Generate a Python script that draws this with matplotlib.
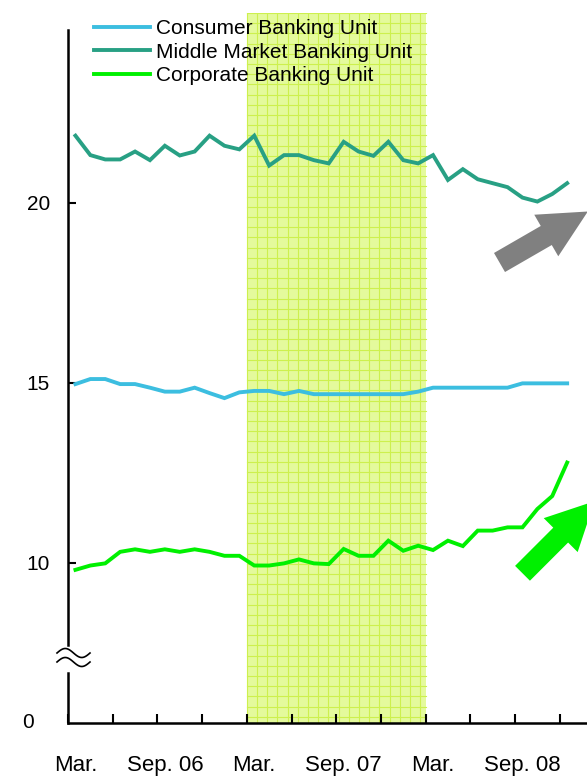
import numpy as np
import matplotlib
matplotlib.use("Agg")
import matplotlib.pyplot as plt
from matplotlib.patches import FancyArrow
from matplotlib.transforms import Affine2D

plt.rcParams['font.family'] = ['Liberation Sans', 'DejaVu Sans']

# Monthly figures, Mar. 2006 - Dec. 2008
consumer = [14.97, 15.11, 15.11, 14.97, 14.97, 14.87, 14.76, 14.76, 14.87, 14.72,
            14.58, 14.74, 14.78, 14.78, 14.69, 14.78, 14.69, 14.69, 14.69, 14.69,
            14.69, 14.69, 14.69, 14.76, 14.87, 14.87, 14.87, 14.87, 14.87, 14.87,
            14.99, 14.99, 14.99, 14.99]
middle_market = [21.87, 21.33, 21.21, 21.21, 21.43, 21.19, 21.59, 21.32, 21.43, 21.87,
                 21.59, 21.49, 21.87, 21.04, 21.33, 21.33, 21.19, 21.10, 21.70, 21.43,
                 21.31, 21.70, 21.19, 21.10, 21.33, 20.64, 20.94, 20.66, 20.55, 20.44,
                 20.15, 20.04, 20.25, 20.55]
corporate = [9.81, 9.93, 9.99, 10.31, 10.38, 10.31, 10.38, 10.31, 10.38, 10.31,
             10.20, 10.20, 9.93, 9.93, 9.99, 10.10, 9.99, 9.97, 10.39, 10.20,
             10.20, 10.62, 10.34, 10.48, 10.36, 10.62, 10.47, 10.90, 10.90, 10.99,
             10.99, 11.50, 11.86, 12.79]

series_names = ["Consumer Banking Unit", "Middle Market Banking Unit", "Corporate Banking Unit"]
series_colors = ["#3cbee0", "#28a084", "#00f000"]

label_pos = [0, 6, 12, 18, 24, 30]
label_text = ["Mar.", "Sep. 06", "Mar.", "Sep. 07", "Mar.", "Sep. 08"]

# value shown as "0" sits at the bottom of the broken axis
y_floor = 10 - 160 / 36
y_top = 20 + 190 / 36
y_ticks = [10, 15, 20]

W, H = 587, 776
fig = plt.figure(figsize=(W / 100, H / 100), dpi=100)
# pixel coordinates (origin top-left) -> figure
px = Affine2D().scale(1, -1).translate(0, H).scale(1 / W, 1 / H) + fig.transFigure

ax = fig.add_axes([68 / W, 1 - 723 / H, 1 - 68 / W, (723 - 13) / H])
x = np.arange(len(consumer))
ax.set_xlim(-0.5, -0.5 + (W - 68) / 14.9)
ax.set_ylim(y_floor, y_top)

# shaded year with its fine grid
ax.axvspan(11.5, 23.5, color="#e4fa9c", zorder=0, lw=0)
for gx in np.arange(11.5, 23.5, 10.2 / 14.9):
    ax.plot([gx, gx], [y_floor, y_top], color="#cdf04e", lw=0.8, zorder=0.5)
for gy in np.arange(y_top, y_floor, -10.2 / 36):
    ax.plot([11.5, 23.5], [gy, gy], color="#cdf04e", lw=0.8, zorder=0.5)

for vals, name, col in zip([consumer, middle_market, corporate], series_names, series_colors):
    ax.plot(x, vals, color=col, lw=2.8, label=name, zorder=3, solid_joinstyle="miter")

for s in ["top", "right", "left"]:
    ax.spines[s].set_visible(False)
ax.spines["bottom"].set_linewidth(1.8)

# left axis line, broken near the bottom
brk_lo = 10 - (673 - 563) / 36
brk_hi = 10 - (645 - 563) / 36
spine_top = 20 + (203 - 30) / 36
ax.plot([-0.5, -0.5], [y_floor, brk_lo], color="black", lw=1.8, clip_on=False, zorder=4)
ax.plot([-0.5, -0.5], [brk_hi, spine_top], color="black", lw=1.8, clip_on=False, zorder=4)
wx = np.linspace(57, 90, 40)
for cy in [653, 662]:
    wy = cy - 4.5 * np.sin((wx - 57) / 33 * 2 * np.pi)
    fig.add_artist(plt.Line2D(wx, wy, transform=px, color="black", lw=1.2))

ax.set_yticks(y_ticks)
ax.set_yticklabels([str(t) for t in y_ticks])
ax.tick_params(axis="y", direction="in", length=6, width=1.5, pad=13, labelsize=15)
ax.text(28, 723, "0", transform=px, ha="center", va="center", fontsize=15)

ax.set_xticks(np.arange(-0.5, 34.5, 3))
ax.set_xticklabels([])
ax.tick_params(axis="x", which="major", direction="in", length=6.5, width=1.5)
ax.set_xticks(label_pos, minor=True)
ax.set_xticklabels(label_text, minor=True)
ax.tick_params(axis="x", which="minor", length=0, pad=23, labelsize=16)

ax.legend(loc="upper left", bbox_to_anchor=(94 / W, 1 - 19 / H), bbox_transform=fig.transFigure,
          frameon=False, fontsize=15, handlelength=2.7, handletextpad=0.3,
          labelspacing=0.22, borderpad=0, borderaxespad=0)

# trend arrows at the right edge
for tail, ang, col, w in [((499.5, 262.5), 30, "#808080", 22), ((522.5, 573.3), 45, "#00f000", 21)]:
    L = 102
    dx = L * np.cos(np.radians(ang))
    dy = -L * np.sin(np.radians(ang))
    fig.add_artist(FancyArrow(tail[0], tail[1], dx, dy, width=w, head_width=48, head_length=48,
                              length_includes_head=True, color=col, lw=0, transform=px))

fig.savefig("out.png", dpi=100)
